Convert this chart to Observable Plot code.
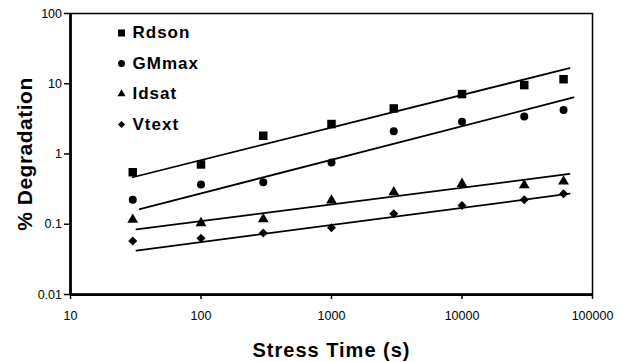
<!DOCTYPE html>
<html>
<head>
<meta charset="utf-8">
<script src="https://cdn.jsdelivr.net/npm/d3@7"></script>
<script src="https://cdn.jsdelivr.net/npm/@observablehq/plot@0.6"></script>
<style>
  body { margin: 0; background: #fff; }
  #chart svg { font-family: "Liberation Sans", Arial, sans-serif; }
</style>
</head>
<body>
<div id="chart"></div>
<script>
// Stress time (s) of each measurement
const stressTime = [30, 100, 300, 1000, 3000, 10000, 30000, 60000];
// % degradation per parameter
const rdson = [0.55, 0.71, 1.82, 2.67, 4.45, 7.13, 9.57, 11.6];
const gmmax = [0.223, 0.368, 0.397, 0.755, 2.10, 2.88, 3.43, 4.23];
const idsat = [0.116, 0.104, 0.118, 0.218, 0.286, 0.376, 0.36, 0.406];
const vtext = [0.0577, 0.063, 0.075, 0.089, 0.141, 0.185, 0.223, 0.272];
const seriesNames = ["Rdson", "GMmax", "Idsat", "Vtext"];
// power-law trend lines: start/end stress time and the fitted value there
const trendTime = [[30, 66700], [34, 71600], [32, 66700], [32, 66700]];
const trendValue = [[0.467, 16.7], [0.164, 6.38], [0.0845, 0.521], [0.0421, 0.272]];
// axis ticks
const xTicks = [10, 100, 1000, 10000, 100000];
const yTicks = [0.01, 0.1, 1, 10, 100];

const seriesValues = [rdson, gmmax, idsat, vtext];
const symbols = ["square", "circle", "triangle", "diamond2"];
const dotR = [4.8, 4, 4, 4.05];
const legendR = [3.95, 3.5, 3, 3.15];

const points = seriesNames.flatMap((name, i) =>
  stressTime.map((t, j) => ({series: name, time: t, value: seriesValues[i][j]})));
const trends = seriesNames.flatMap((name, i) =>
  trendTime[i].map((t, j) => ({series: name, time: t, value: trendValue[i][j]})));

const marks = [
  Plot.frame({stroke: "black", strokeWidth: 1.5}),
  Plot.ruleX([xTicks[0]], {stroke: "black", strokeWidth: 2.75}),
  Plot.ruleY([yTicks[0]], {stroke: "black", strokeWidth: 2.75}),
  Plot.axisX(xTicks, {tickSize: 5, tickPadding: 12, tickFormat: d => String(d), fontSize: 12.5, strokeWidth: 1.5, label: null}),
  Plot.axisY(yTicks, {tickSize: 6, tickPadding: 2.5, tickFormat: d => String(d), fontSize: 12.5, strokeWidth: 1.5, label: null})
];

seriesNames.forEach((name, i) => {
  const pts = points.filter(d => d.series === name);
  const tr = trends.filter(d => d.series === name);
  marks.push(Plot.line(tr, {x: "time", y: "value", stroke: "black", strokeWidth: 1.75}));
  marks.push(Plot.dot(pts, {x: "time", y: "value", symbol: symbols[i], r: dotR[i], fill: "black", stroke: "none"}));
  // legend entry
  marks.push(Plot.dot([name], {frameAnchor: "top-left", dx: 51, dy: 19.5 + i * 30.5, symbol: symbols[i], r: legendR[i], fill: "black", stroke: "none"}));
  marks.push(Plot.text([name], {text: d => d, frameAnchor: "top-left", textAnchor: "start", lineAnchor: "middle", dx: 62, dy: 19.5 + i * 30.5, fontSize: 17, fontWeight: "bold", fill: "black"}));
});

marks.push(Plot.text(["% Degradation"], {text: d => d, frameAnchor: "left", textAnchor: "middle", lineAnchor: "middle", rotate: -90, dx: -45, fontSize: 21, fontWeight: "bold", fill: "black"}));
marks.push(Plot.text(["Stress Time (s)"], {text: d => d, frameAnchor: "bottom", textAnchor: "middle", lineAnchor: "middle", dy: 56, fontSize: 20, fontWeight: "bold", fill: "black"}));

const chart = Plot.plot({
  width: 623,
  height: 362,
  marginLeft: 70,
  marginRight: 31,
  marginTop: 13,
  marginBottom: 68,
  style: {background: "white", color: "black", fontFamily: "'Liberation Sans', Arial, sans-serif", fontSize: "12px"},
  x: {type: "log", domain: [xTicks[0], xTicks[xTicks.length - 1]]},
  y: {type: "log", domain: [yTicks[0], yTicks[yTicks.length - 1]]},
  marks
});

// slightly wider letter spacing for the bold labels
d3.select(chart).selectAll("text").each(function () {
  const t = this.textContent;
  if (seriesNames.includes(t) || t === "Stress Time (s)") this.setAttribute("letter-spacing", "1px");
  if (t === "% Degradation") this.setAttribute("letter-spacing", "0.5px");
});

document.getElementById("chart").append(chart);
</script>
</body>
</html>
